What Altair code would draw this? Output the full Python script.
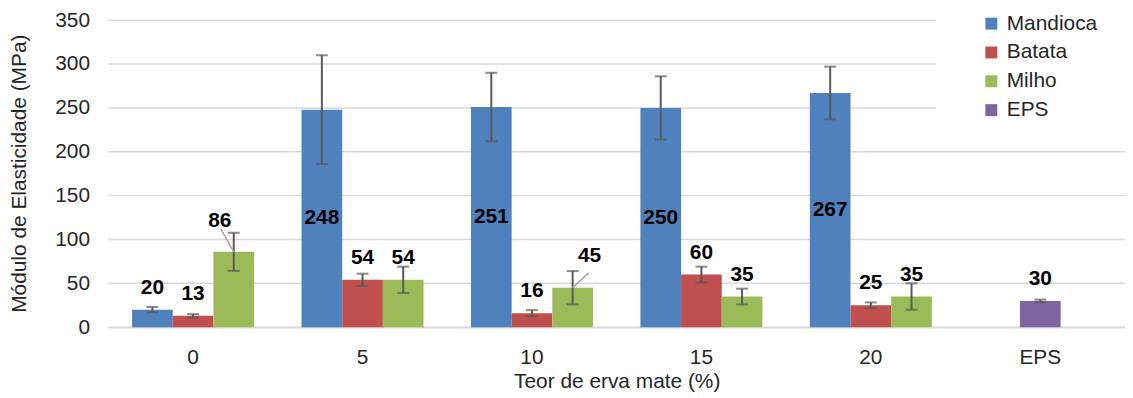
import altair as alt
import pandas as pd

categories = ["0", "5", "10", "15", "20", "EPS"]
series = ["Mandioca", "Batata", "Milho", "EPS"]
colors = ["#4F81BD", "#C0504D", "#9BBB59", "#8064A2"]
y_ticks = [0, 50, 100, 150, 200, 250, 300, 350]

mandioca = [20, 248, 251, 250, 267]
mandioca_err = [3, 62, 39, 36, 30]
batata = [13, 54, 16, 60, 25]
batata_err = [2, 7, 3.5, 9, 3.3]
milho = [86, 54, 45, 35, 35]
milho_err = [21.7, 15, 19, 9, 15]
eps = [30]
eps_err = [1.5]

rows = []
for name, vals, errs in [("Mandioca", mandioca, mandioca_err),
                         ("Batata", batata, batata_err),
                         ("Milho", milho, milho_err)]:
    for c, v, e in zip(categories[:5], vals, errs):
        rows.append({"cat": c, "series": name, "slot": name, "value": v, "err": e})
rows.append({"cat": "EPS", "series": "EPS", "slot": "Batata", "value": eps[0], "err": eps_err[0]})
df = pd.DataFrame(rows)
df["lo"] = df["value"] - df["err"]
df["hi"] = df["value"] + df["err"]
df["mid"] = df["value"] / 2

grid_df = pd.DataFrame({"v": y_ticks})

FONT = "Liberation Sans"
ERR = "#595959"
W, H = 1023, 309
LEG_LEFT = 833  # where the legend box begins (gridlines stop there)

x = alt.X("cat:N", sort=categories, scale=alt.Scale(paddingInner=0.28, paddingOuter=0.14),
          axis=alt.Axis(title="Teor de erva mate (%)", labelAngle=0, ticks=False, tickSize=0,
                        labelPadding=20, domainColor="#d9d9d9", domainWidth=1.5,
                        titleY=55, titleBaseline="middle"))
xo = alt.XOffset("slot:N", scale=alt.Scale(domain=["Mandioca", "Batata", "Milho"], paddingInner=0, paddingOuter=0))
yscale = alt.Scale(domain=[0, 350])

base = alt.Chart(df)

grid_full = alt.Chart(grid_df).transform_filter("datum.v <= 200").mark_rule(
    color="#d9d9d9", strokeWidth=1.5).encode(
    y=alt.Y("v:Q", scale=yscale), x=alt.value(0), x2=alt.value(W))
grid_short = alt.Chart(grid_df).transform_filter("datum.v > 200").mark_rule(
    color="#d9d9d9", strokeWidth=1.5).encode(
    y=alt.Y("v:Q", scale=yscale), x=alt.value(0), x2=alt.value(LEG_LEFT))

bars = base.mark_bar().encode(
    x=x, xOffset=xo,
    y=alt.Y("value:Q", scale=yscale,
            axis=alt.Axis(title="Módulo de Elasticidade (MPa)", values=y_ticks, grid=False,
                          ticks=False, tickSize=0, domain=False, labelPadding=19,
                          titleX=-89, titleY=154, titleAngle=270, titleAlign="center",
                          titleBaseline="middle")),
    color=alt.Color("series:N", scale=alt.Scale(domain=series, range=colors),
                    legend=alt.Legend(title=None, orient="none", legendX=878, legendY=-7, padding=0,
                                      symbolType="square", symbolSize=144, labelFontSize=21,
                                      rowPadding=7, labelOffset=5, symbolStrokeWidth=0)),
)

rule = base.mark_rule(color=ERR, strokeWidth=2).encode(x=x, xOffset=xo, y="lo:Q", y2="hi:Q")
cap_lo = base.mark_tick(color=ERR, thickness=2, size=12).encode(x=x, xOffset=xo, y="lo:Q")
cap_hi = base.mark_tick(color=ERR, thickness=2, size=12).encode(x=x, xOffset=xo, y="hi:Q")

txt_kw = dict(font=FONT, fontSize=21, fontWeight="bold", color="black", baseline="middle")

inside = base.transform_filter("datum.value > 100").mark_text(**txt_kw).encode(
    x=x, xOffset=xo, y="mid:Q", text=alt.Text("value:Q", format="d"))

special = "(datum.cat == '0' && datum.series == 'Milho') || (datum.cat == '10' && datum.series == 'Milho')"
above = base.transform_filter("datum.value <= 100").transform_filter("!(" + special + ")").mark_text(
    dy=-22, **txt_kw).encode(x=x, xOffset=xo, y="value:Q", text=alt.Text("value:Q", format="d"))

lab86 = base.transform_filter("datum.cat == '0' && datum.series == 'Milho'").mark_text(
    dx=-14, dy=-31, **txt_kw).encode(x=x, xOffset=xo, y="value:Q", text=alt.Text("value:Q", format="d"))
lab45 = base.transform_filter("datum.cat == '10' && datum.series == 'Milho'").mark_text(
    dx=17, dy=-32, **txt_kw).encode(x=x, xOffset=xo, y="value:Q", text=alt.Text("value:Q", format="d"))

lead86 = base.transform_filter("datum.cat == '0' && datum.series == 'Milho'").mark_point(
    shape="M0,0L-13,-23", size=4, filled=False, stroke="#a6a6a6", strokeWidth=1.5, opacity=1).encode(
    x=x, xOffset=xo, y="value:Q")
lead45 = base.transform_filter("datum.cat == '10' && datum.series == 'Milho'").mark_point(
    shape="M0,0L16,-15", size=4, filled=False, stroke="#a6a6a6", strokeWidth=1.5, opacity=1).encode(
    x=x, xOffset=xo, y="value:Q")

chart = alt.layer(grid_full, grid_short, bars, rule, cap_lo, cap_hi, inside, above,
                  lab86, lab45, lead86, lead45).properties(
    width=W, height=H,
    autosize=alt.AutoSizeParams(type="none"),
    padding={"left": 101, "top": 11, "right": 0, "bottom": 72},
).configure_view(stroke=None).configure_axis(
    labelFont=FONT, titleFont=FONT, labelFontSize=21, titleFontSize=21,
    labelColor="#262626", titleColor="#262626", titleFontWeight="normal",
).configure_legend(labelFont=FONT, labelColor="#262626")

chart.save("out.html", embed_options={"renderer": "svg", "actions": False})
